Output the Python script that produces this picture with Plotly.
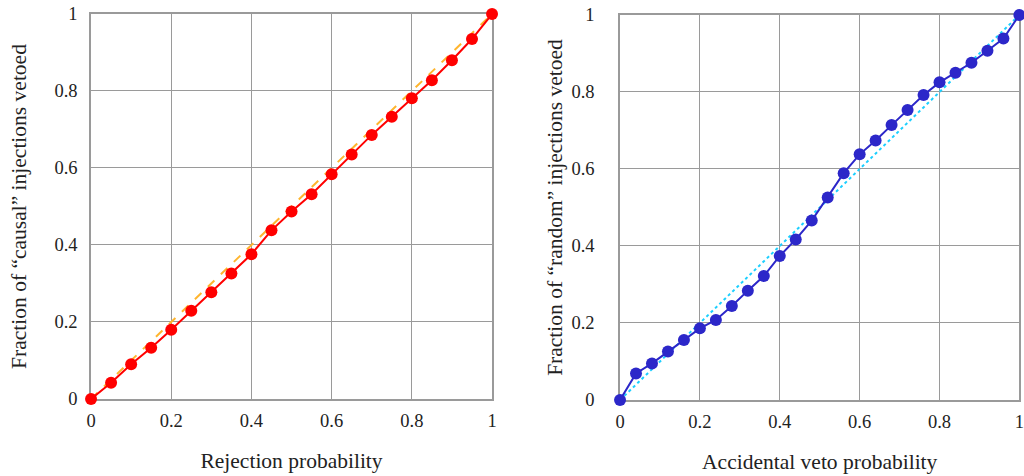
import plotly.graph_objects as go

# Left panel: causal injections
rej_prob = [0, 0.05, 0.10, 0.15, 0.20, 0.25, 0.30, 0.35, 0.40, 0.45, 0.50,
            0.55, 0.60, 0.65, 0.70, 0.75, 0.80, 0.85, 0.90, 0.95, 1.00]
causal_frac = [0, 0.042, 0.090, 0.133, 0.180, 0.229, 0.277, 0.326, 0.376, 0.438, 0.487,
               0.532, 0.584, 0.635, 0.686, 0.733, 0.781, 0.828, 0.880, 0.935, 1.000]

# Right panel: random injections
acc_prob = [0, 0.04, 0.08, 0.12, 0.16, 0.20, 0.24, 0.28, 0.32, 0.36, 0.40, 0.44, 0.48,
            0.52, 0.56, 0.60, 0.64, 0.68, 0.72, 0.76, 0.80, 0.84, 0.88, 0.92, 0.96, 1.00]
random_frac = [0, 0.069, 0.095, 0.126, 0.156, 0.186, 0.208, 0.244, 0.284, 0.322, 0.374,
               0.417, 0.466, 0.526, 0.589, 0.638, 0.674, 0.714, 0.753, 0.792, 0.825,
               0.850, 0.876, 0.907, 0.939, 1.000]

diag = [0, 1]
tick_vals = [0, 0.2, 0.4, 0.6, 0.8, 1]
tick_text = ["0", "0.2", "0.4", "0.6", "0.8", "1"]

FONT = "Liberation Serif"
fig = go.Figure()

fig.add_trace(go.Scatter(x=diag, y=diag, mode="lines", xaxis="x", yaxis="y",
                         line=dict(color="#ffb52e", width=2, dash="dash"), showlegend=False))
fig.add_trace(go.Scatter(x=rej_prob, y=causal_frac, mode="lines+markers", xaxis="x", yaxis="y",
                         line=dict(color="#ff0000", width=2),
                         marker=dict(color="#ff0000", size=12), showlegend=False, cliponaxis=False))
fig.add_trace(go.Scatter(x=diag, y=diag, mode="lines", xaxis="x2", yaxis="y2",
                         line=dict(color="#1ccfff", width=2, dash="dot"), showlegend=False))
fig.add_trace(go.Scatter(x=acc_prob, y=random_frac, mode="lines+markers", xaxis="x2", yaxis="y2",
                         line=dict(color="#2c27c9", width=2),
                         marker=dict(color="#2c27c9", size=12), showlegend=False, cliponaxis=False))

axis_common = dict(range=[0, 1], tickvals=tick_vals, ticktext=tick_text,
                   showgrid=True, gridcolor="#9a9a9a", gridwidth=1,
                   showline=True, linecolor="#9a9a9a", linewidth=1.5, mirror=True,
                   zeroline=False, ticks="", automargin=False, ticklabeloverflow="allow",
                   layer="below traces",
                   tickfont=dict(family=FONT, size=18.5, color="#222"),
                   title_font=dict(family=FONT, size=21.5, color="#222"))

fig.update_layout(
    width=1024, height=476,
    margin=dict(l=0, r=0, t=0, b=0),
    paper_bgcolor="white", plot_bgcolor="white",
    xaxis=dict(domain=[0.0889, 0.4805], anchor="y", title_text="Rejection probability",
               title_standoff=23, ticklabelstandoff=4, **axis_common),
    yaxis=dict(domain=[0.1618, 0.9706], anchor="x",
               title_text="Fraction of \u201ccausal\u201d injections vetoed",
               title_standoff=22, ticklabelstandoff=8, **axis_common),
    xaxis2=dict(domain=[0.6055, 0.9955], anchor="y2", title_text="Accidental veto probability",
                title_standoff=23, ticklabelstandoff=4, **axis_common),
    yaxis2=dict(domain=[0.1597, 0.9685], anchor="x2",
                title_text="Fraction of \u201crandom\u201d injections vetoed",
                title_standoff=3, ticklabelstandoff=20, **axis_common),
)

# remove the default page margin so the 1024x476 figure fills the window exactly
fig.write_html("out.html", config={"displayModeBar": False},
               post_script="document.body.style.margin='0';document.body.style.overflow='hidden';")
